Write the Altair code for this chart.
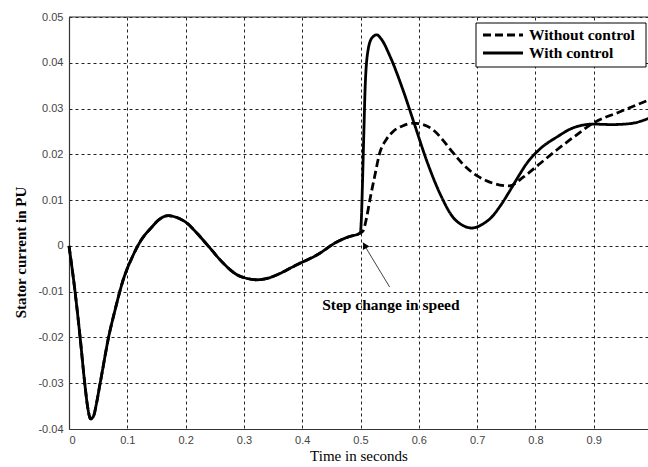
import altair as alt
import pandas as pd

# ---- data ----
# common part (both curves identical before the step at t = 0.5 s)
t_common = [0.0, 0.010, 0.019, 0.027, 0.032, 0.037, 0.042, 0.047, 0.052, 0.057, 0.067, 0.079,
            0.093, 0.108, 0.122, 0.142, 0.155, 0.170, 0.185, 0.202, 0.220, 0.240,
            0.264, 0.288, 0.305, 0.322, 0.340, 0.357, 0.391, 0.425, 0.460, 0.480, 0.4995]
i_common = [0.0, -0.0096, -0.0199, -0.0300, -0.0352, -0.0378, -0.0372, -0.0345, -0.0310, -0.0275, -0.0205, -0.0140,
            -0.0074, -0.0026, 0.0009, 0.0041, 0.0058, 0.0066, 0.0062, 0.0050, 0.0027, -0.0002,
            -0.0037, -0.0063, -0.0071, -0.0074, -0.0071, -0.0063, -0.0041, -0.0020, 0.0009, 0.0020, 0.0028]

t_with = [0.5015, 0.503, 0.506, 0.508, 0.513, 0.520, 0.528, 0.535, 0.551, 0.573, 0.593, 0.613,
          0.636, 0.659, 0.675, 0.691, 0.710, 0.725, 0.739, 0.755, 0.770, 0.785, 0.808, 0.837, 0.865, 0.899,
          0.930, 0.962, 0.997]
i_with = [0.0060, 0.0120, 0.0260, 0.0348, 0.0428, 0.0455, 0.0461, 0.0453, 0.0413, 0.0340, 0.0264, 0.0188,
          0.0115, 0.0062, 0.0045, 0.0039, 0.0048, 0.0063, 0.0086, 0.0118, 0.0150, 0.0180, 0.0212, 0.0238, 0.0258, 0.0266,
          0.0265, 0.0267, 0.0280]

t_without = [0.504, 0.511, 0.516, 0.524, 0.533, 0.544, 0.556, 0.572, 0.590, 0.607, 0.625, 0.642,
             0.659, 0.676, 0.693, 0.715, 0.739, 0.755, 0.779, 0.808, 0.837, 0.868, 0.899, 0.945, 0.997]
i_without = [0.0032, 0.0065, 0.0100, 0.0150, 0.0203, 0.0232, 0.0250, 0.0262, 0.0268, 0.0265, 0.0253, 0.0230,
             0.0203, 0.0178, 0.0159, 0.0143, 0.0133, 0.0131, 0.0150, 0.0180, 0.0210, 0.0240, 0.0268, 0.0293, 0.0320]

series_names = ["Without control", "With control"]
x_ticks = [0.0, 0.1, 0.2, 0.3, 0.4, 0.5, 0.6, 0.7, 0.8, 0.9]
y_ticks = [-0.04, -0.03, -0.02, -0.01, 0.0, 0.01, 0.02, 0.03, 0.04, 0.05]

# annotation
note_text = ["Step change in speed"]
note_t = [0.552]
note_i = [-0.0130]
arrow_t = [0.550, 0.504]
arrow_i = [-0.0090, 0.0007]

# ---- tables ----
rows = []
for name, ts, vs in [("Without control", t_without, i_without), ("With control", t_with, i_with)]:
    for t, v in zip(t_common, i_common):
        rows.append({"t": t, "i": v, "series": name})
    for t, v in zip(ts, vs):
        rows.append({"t": t, "i": v, "series": name})
df = pd.DataFrame(rows)

X_MAX = 0.9931
x_scale = alt.Scale(domain=[0, X_MAX], nice=False, zero=False)
y_scale = alt.Scale(domain=[-0.04, 0.05], nice=False, zero=False)

x_enc = alt.X("t:Q", scale=x_scale,
              axis=alt.Axis(values=x_ticks, title="Time in seconds",
                            labelExpr="datum.value == 0 ? '0' : format(datum.value, '.1f')",
                            ticks=False, labelPadding=5, titlePadding=3,
                            titleFont="Liberation Serif", titleFontSize=15, titleFontWeight="normal",
                            titleColor="#000"))
y_enc = alt.Y("i:Q", scale=y_scale,
              axis=alt.Axis(values=y_ticks, title="Stator current in PU",
                            labelExpr="datum.value == 0 ? '0' : (datum.value < 0 ? '-' + format(-datum.value, '.2f') : format(datum.value, '.2f'))",
                            ticks=False, labelPadding=6,
                            titleFont="Liberation Serif", titleFontSize=15, titleFontWeight="bold",
                            titleColor="#000", titleX=-49, titleY=235, titleAngle=-90,
                            titleAlign="center", titleBaseline="middle"))

dash_scale = alt.Scale(domain=series_names, range=[[8, 4], [1, 0]])

lines = alt.Chart(df).mark_line(color="black", strokeWidth=2.8, interpolate="monotone").encode(
    x=x_enc, y=y_enc,
    strokeDash=alt.StrokeDash("series:N", scale=dash_scale, legend=None),
    detail="series:N",
)

arrow_df = pd.DataFrame({"t": arrow_t, "i": arrow_i, "k": [0, 1]})
arrow_line = alt.Chart(arrow_df).mark_line(color="#444", strokeWidth=1).encode(
    x=alt.X("t:Q", scale=x_scale), y=alt.Y("i:Q", scale=y_scale), order="k:O")
head_df = pd.DataFrame({"t": [arrow_t[1] + 0.004], "i": [arrow_i[1] - 0.0008]})
arrow_head = alt.Chart(head_df).mark_point(shape="triangle", angle=332, filled=True,
                                           color="black", size=55, opacity=1).encode(
    x=alt.X("t:Q", scale=x_scale), y=alt.Y("i:Q", scale=y_scale))

note_df = pd.DataFrame({"t": note_t, "i": note_i, "txt": note_text})
note = alt.Chart(note_df).mark_text(font="Liberation Serif", fontSize=15.5, fontWeight="bold",
                                    color="black", align="center", baseline="middle").encode(
    x=alt.X("t:Q", scale=x_scale), y=alt.Y("i:Q", scale=y_scale), text="txt:N")

top_border = alt.Chart(pd.DataFrame({"a": [0]})).mark_rule(color="#333", strokeWidth=1).encode(
    x=alt.value(0), x2=alt.value(579), y=alt.value(0))

# ---- hand-made legend box (MATLAB style) ----
one = pd.DataFrame({"a": [0]})
leg_box = alt.Chart(one).mark_rect(fill="white", stroke="black", strokeWidth=1).encode(
    x=alt.value(407), x2=alt.value(577), y=alt.value(6), y2=alt.value(50))
leg_dash = alt.Chart(one).mark_rule(color="black", strokeWidth=3, strokeDash=[8, 4]).encode(
    x=alt.value(414), x2=alt.value(454), y=alt.value(18))
leg_solid = alt.Chart(one).mark_rule(color="black", strokeWidth=3).encode(
    x=alt.value(414), x2=alt.value(454), y=alt.value(36))
leg_txt1 = alt.Chart(pd.DataFrame({"txt": [series_names[0]]})).mark_text(
    font="Liberation Serif", fontSize=15.5, fontWeight="bold", color="black",
    align="left", baseline="middle").encode(x=alt.value(460), y=alt.value(18), text="txt:N")
leg_txt2 = alt.Chart(pd.DataFrame({"txt": [series_names[1]]})).mark_text(
    font="Liberation Serif", fontSize=15.5, fontWeight="bold", color="black",
    align="left", baseline="middle").encode(x=alt.value(460), y=alt.value(36), text="txt:N")

chart = alt.layer(lines, arrow_line, arrow_head, note, top_border,
                  leg_box, leg_dash, leg_solid, leg_txt1, leg_txt2).properties(
    width=579, height=412,
    autosize=alt.AutoSizeParams(type="none"),
    padding={"left": 69, "top": 17, "right": 0, "bottom": 38},
    background="white",
).configure_view(stroke=None).configure_axis(
    grid=True, gridColor="#222", gridDash=[3, 3], gridWidth=1, gridOpacity=1,
    domainColor="#333", domainWidth=1.2,
    labelFont="Liberation Sans", labelFontSize=11, labelColor="#444",
)

chart.save("out.html", embed_options={"renderer": "svg", "actions": False})
